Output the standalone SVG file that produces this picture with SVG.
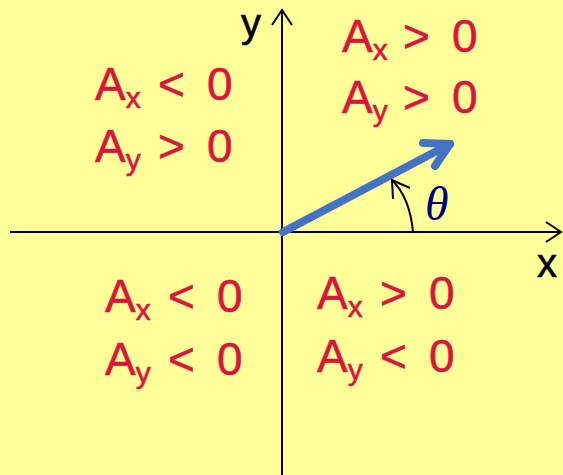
<svg xmlns="http://www.w3.org/2000/svg" width="563" height="475" viewBox="0 0 563 475">
<style>
.lbl{font-family:"Liberation Sans","DejaVu Sans",sans-serif;font-size:46px;fill:#DC143C;stroke:#DC143C;stroke-width:0.6}
.sub{font-size:30px}
.ax{font-family:"Liberation Sans","DejaVu Sans",sans-serif;font-size:40px;fill:#000;stroke:#000;stroke-width:0.6}
.axis{stroke:#000;stroke-width:2;fill:none}
</style>
<rect width="563" height="475" fill="#FFFF99"/>
<g id="connectors">
<path class="axis" d="M10,232 H561 M546,222 L561,232 L546,242"/>
<path class="axis" d="M282,475 V10 M272,25 L282,10 L292,25"/>
<path d="M283,232 L450,144" stroke="#4472C4" stroke-width="8" fill="none" stroke-linecap="round"/>
<path d="M423,143 L450,144 L435,166" stroke="#4472C4" stroke-width="8" fill="none" stroke-linecap="round" stroke-linejoin="round"/>
<path d="M413,232 Q410,198 392,180" class="axis"/>
<path d="M393,199 L392,180 L410,188" class="axis"/>
</g>
<g id="axis-y"><text class="ax" x="241" y="37">y</text></g>
<g id="axis-x"><text class="ax" x="537" y="277">x</text></g>
<g id="theta"><text x="425" y="220" font-family="'Liberation Serif','DejaVu Serif',serif" font-style="italic" font-size="48" fill="#000080">θ</text></g>
<g id="q1">
<text class="lbl" x="342" y="52">A<tspan class="sub" dy="8">x</tspan><tspan x="403" dy="-8">&gt;</tspan><tspan x="452">0</tspan></text>
<text class="lbl" x="342" y="113">A<tspan class="sub" dy="8">y</tspan><tspan x="403" dy="-8">&gt;</tspan><tspan x="452">0</tspan></text>
</g>
<g id="q2">
<text class="lbl" x="95" y="100">A<tspan class="sub" dy="8">x</tspan><tspan x="158" dy="-8">&lt;</tspan><tspan x="207">0</tspan></text>
<text class="lbl" x="95" y="162">A<tspan class="sub" dy="8">y</tspan><tspan x="158" dy="-8">&gt;</tspan><tspan x="207">0</tspan></text>
</g>
<g id="q3">
<text class="lbl" x="105" y="312">A<tspan class="sub" dy="8">x</tspan><tspan x="168" dy="-8">&lt;</tspan><tspan x="217">0</tspan></text>
<text class="lbl" x="105" y="375">A<tspan class="sub" dy="8">y</tspan><tspan x="168" dy="-8">&lt;</tspan><tspan x="217">0</tspan></text>
</g>
<g id="q4">
<text class="lbl" x="317" y="309">A<tspan class="sub" dy="8">x</tspan><tspan x="380" dy="-8">&gt;</tspan><tspan x="429">0</tspan></text>
<text class="lbl" x="317" y="372">A<tspan class="sub" dy="8">y</tspan><tspan x="380" dy="-8">&lt;</tspan><tspan x="429">0</tspan></text>
</g>
</svg>
